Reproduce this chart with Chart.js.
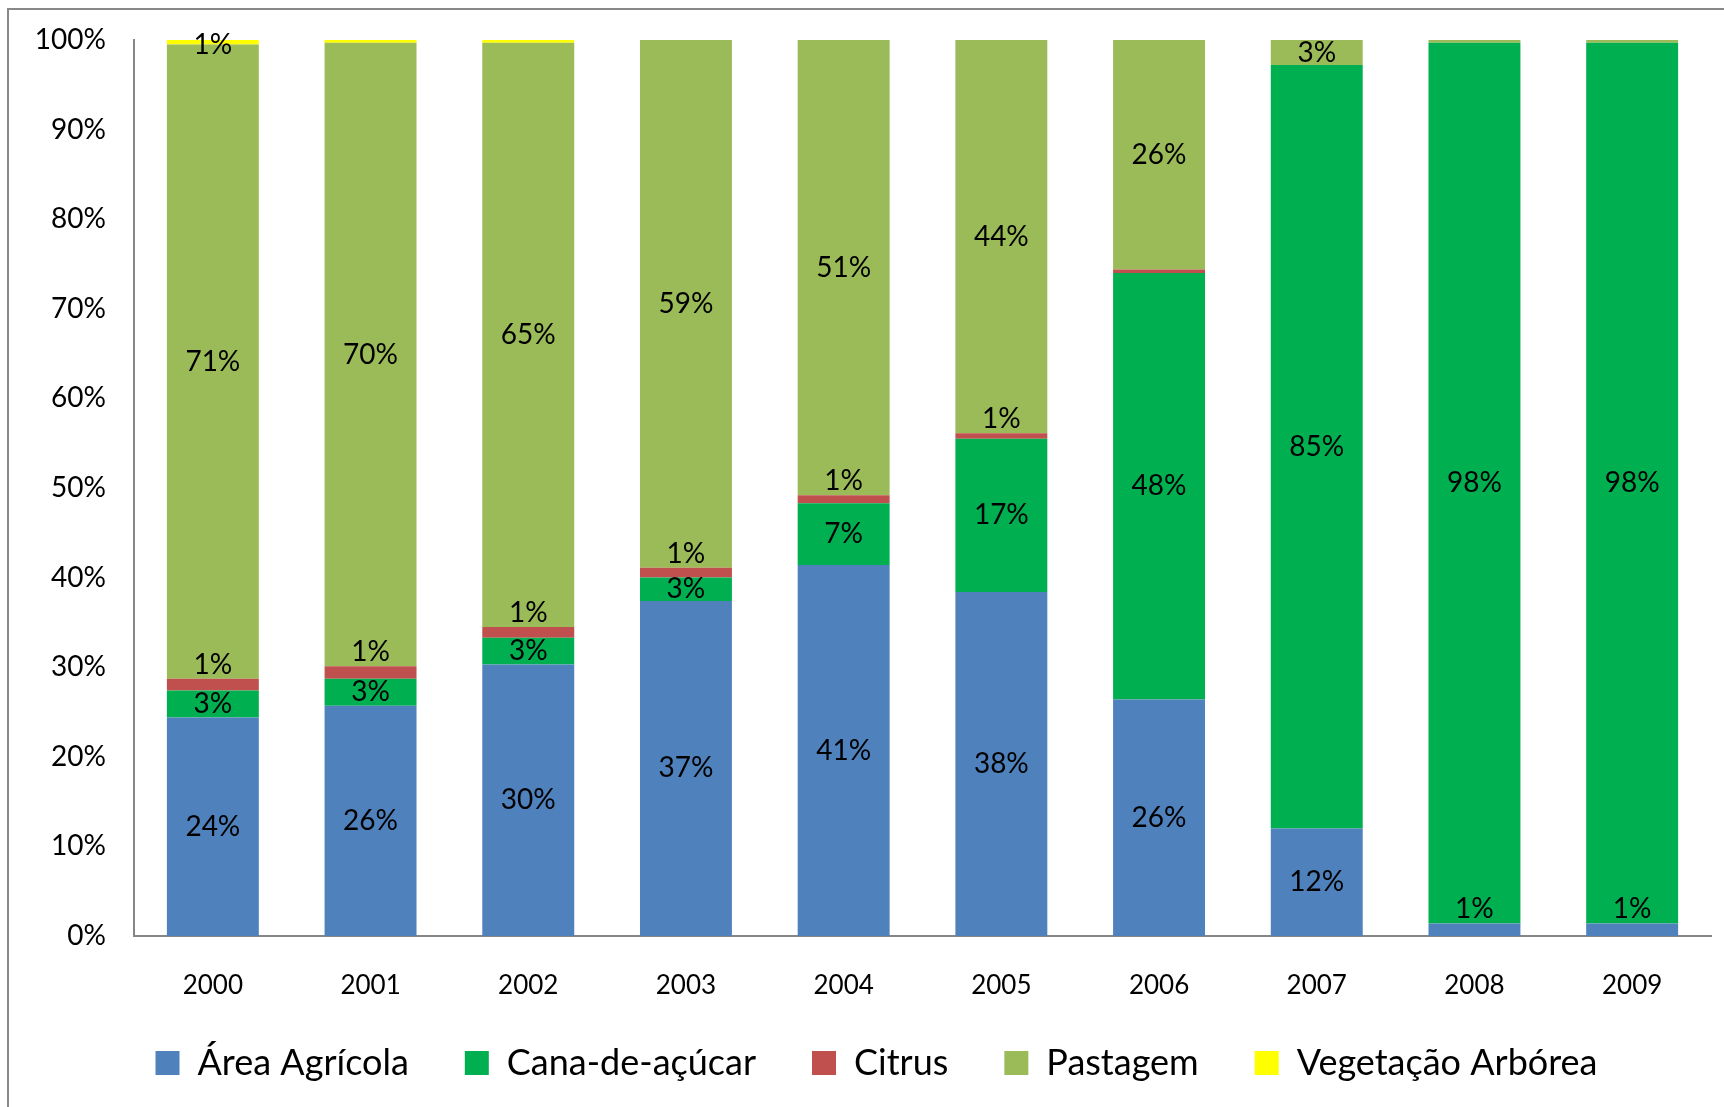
<!DOCTYPE html>
<html>
<head>
<meta charset="utf-8">
<script src="https://cdn.jsdelivr.net/npm/chart.js@4"></script>
<style>
  html, body { margin: 0; padding: 0; background: #fff; }
  #wrap { width: 1724px; height: 1107px; }
</style>
</head>
<body>
<div id="wrap"><canvas id="chart" width="1724" height="1107"></canvas></div>
<script>
// Uso do solo, participação percentual por ano
const years = ['2000', '2001', '2002', '2003', '2004', '2005', '2006', '2007', '2008', '2009'];
const areaAgricola = [24.4, 25.7, 30.3, 37.4, 41.4, 38.4, 26.4, 12.0, 1.4, 1.4];
const canaDeAcucar = [3.0, 3.0, 3.0, 2.6, 6.9, 17.1, 47.6, 85.2, 98.3, 98.3];
const citrus = [1.3, 1.4, 1.2, 1.1, 0.9, 0.6, 0.4, 0, 0, 0];
const pastagem = [70.8, 69.6, 65.2, 58.9, 50.8, 43.9, 25.6, 2.8, 0.3, 0.3];
const vegetacaoArborea = [0.5, 0.3, 0.3, 0, 0, 0, 0, 0, 0, 0];
const yTicks = [0, 10, 20, 30, 40, 50, 60, 70, 80, 90, 100];

const FONT = 'Lato, "Open Sans", sans-serif';

// gray frame around the chart (cropped at right/bottom like the original)
const framePlugin = {
  id: 'frame',
  beforeDraw(chart) {
    const ctx = chart.ctx;
    ctx.save();
    ctx.fillStyle = '#fff';
    ctx.fillRect(0, 0, chart.width, chart.height);
    ctx.strokeStyle = '#888888';
    ctx.lineWidth = 2;
    ctx.strokeRect(8, 9, chart.width + 20, chart.height + 20);
    ctx.restore();
  }
};

// nudge the legend right and up, as in the original
const legendShift = {
  id: 'legendShift',
  afterLayout(chart) {
    const lg = chart.legend;
    if (lg) {
      lg.left += 16;
      lg.right += 16;
      lg.top -= 16;
      lg.bottom -= 16;
    }
  }
};

// percentage labels on the segments
const segmentLabels = {
  id: 'segmentLabels',
  afterDatasetsDraw(chart) {
    const ctx = chart.ctx;
    const area = chart.chartArea;
    ctx.save();
    ctx.font = '28px ' + FONT;
    ctx.fillStyle = '#000';
    ctx.textAlign = 'center';
    ctx.textBaseline = 'middle';
    chart.data.datasets.forEach((ds, i) => {
      const meta = chart.getDatasetMeta(i);
      meta.data.forEach((bar, j) => {
        const v = ds.data[j];
        if (Math.round(v) < 1) return;
        const top = Math.min(bar.y, bar.base);
        const bottom = Math.max(bar.y, bar.base);
        let y = (top + bottom) / 2;
        // thin segments: label sits just above the band
        if (bottom - top < 20) y = top - 14;
        y = Math.max(y, area.top + 5);
        ctx.fillText(Math.round(v) + '%', bar.x, y);
      });
    });
    ctx.restore();
  }
};

new Chart(document.getElementById('chart'), {
  type: 'bar',
  data: {
    labels: years,
    datasets: [
      { label: 'Área Agrícola', data: areaAgricola, backgroundColor: '#4F81BD' },
      { label: 'Cana-de-açúcar', data: canaDeAcucar, backgroundColor: '#00B050' },
      { label: 'Citrus', data: citrus, backgroundColor: '#C0504D' },
      { label: 'Pastagem', data: pastagem, backgroundColor: '#9BBB59' },
      { label: 'Vegetação Arbórea', data: vegetacaoArborea, backgroundColor: '#FFFF00' }
    ]
  },
  options: {
    responsive: false,
    animation: false,
    devicePixelRatio: 1,
    layout: { autoPadding: false, padding: { left: 10, right: 13, top: 40, bottom: 0 } },
    datasets: {
      bar: { categoryPercentage: 1, barPercentage: 0.583, borderWidth: 0 }
    },
    scales: {
      x: {
        stacked: true,
        grid: { display: false, drawTicks: false },
        border: { display: true, color: '#868686', width: 2 },
        ticks: { color: '#000', font: { family: FONT, size: 26 }, padding: 34, maxRotation: 0 },
        afterFit(scale) { scale.height = 69; }
      },
      y: {
        stacked: true,
        min: 0,
        max: 100,
        grid: { display: false, drawTicks: false },
        border: { display: true, color: '#868686', width: 2 },
        afterBuildTicks(scale) { scale.ticks = yTicks.map(v => ({ value: v })); },
        ticks: {
          color: '#000',
          font: { family: FONT, size: 28 },
          padding: 28,
          callback: v => v + '%'
        },
        afterFit(scale) {
          scale.width = 124;
          scale.paddingTop = 0;
          scale.paddingBottom = 0;
        }
      }
    },
    plugins: {
      legend: {
        position: 'bottom',
        labels: {
          boxWidth: 24,
          boxHeight: 24,
          padding: 56,
          color: '#000',
          font: { family: FONT, size: 36 }
        }
      },
      tooltip: { enabled: false }
    }
  },
  plugins: [framePlugin, legendShift, segmentLabels]
});
</script>
</body>
</html>
